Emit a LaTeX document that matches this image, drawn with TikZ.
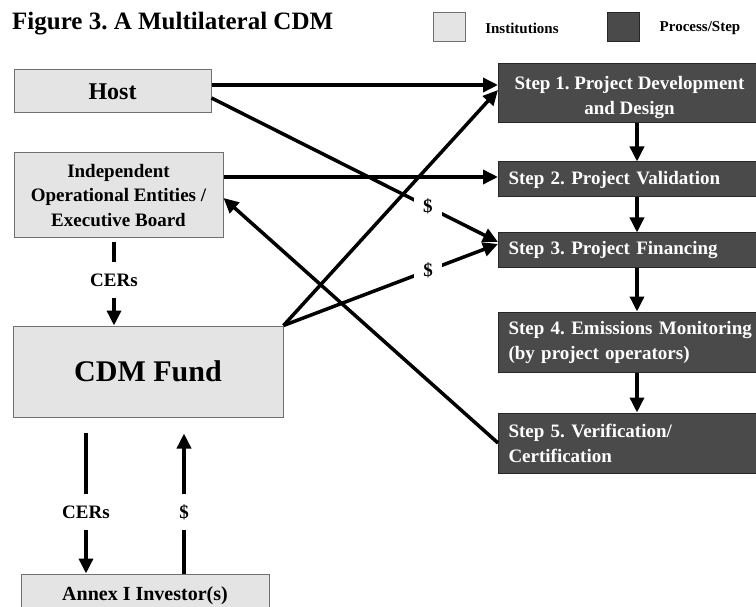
\documentclass[tikz,border=0pt]{standalone}
\usepackage{fontspec}
\setmainfont{Liberation Serif}
\usetikzlibrary{arrows.meta,calc}
\definecolor{instfill}{HTML}{E4E4E4}
\definecolor{instline}{HTML}{707070}
\definecolor{procfill}{HTML}{4A4A4A}
\definecolor{procline}{HTML}{262626}
\newcommand\fsz[2]{\fontsize{#1pt}{#2pt}\selectfont}
\frenchspacing
\begin{document}
\begin{tikzpicture}[x=1pt,y=-1pt,
  instbox/.style={draw=instline, fill=instfill, line width=1pt},
  procbox/.style={draw=procline, fill=procfill, line width=1pt},
  inst/.style={instbox, font=\bfseries, align=center, inner sep=0pt},
  proc/.style={procbox, text=white, font=\bfseries\fsz{19}{25},
    anchor=west, inner xsep=10pt, inner ysep=0pt, align=left, text width=300pt},
  link/.style={line width=3.5pt},
  flow/.style={link, -{Triangle[length=15pt,width=14pt]}},
  tag/.style={font=\bfseries\fsz{19}{22}, inner sep=0pt, minimum height=35pt},
  money/.style={font=\bfseries\fsz{19}{22}, fill=white, inner sep=0pt,
    minimum width=28pt, minimum height=18pt},
]
\useasboundingbox (0,0) rectangle (756,607);

% title and legend
\node[anchor=base west, inner sep=0pt, font=\bfseries\fsz{25}{30}] (title)
  at (12,29.3) {Figure 3. A Multilateral CDM};
\node[instbox, minimum width=32pt, minimum height=29pt, inner sep=0pt] (keyinst) at (449,27.5) {};
\node[font=\bfseries\fsz{15}{18}, inner sep=0pt] (keyinsttxt) at (522,28) {Institutions};
\node[procbox, minimum width=32pt, minimum height=29pt, inner sep=0pt] (keyproc) at (623,27.5) {};
\node[font=\bfseries\fsz{15}{18}, inner sep=0pt] (keyproctxt) at (700,28) {Process/Step};

% institutions
\node[inst, minimum width=197pt, minimum height=43pt, font=\bfseries\fsz{24}{28}]
  (host) at (112.5,91.5) {Host};
\node[inst, minimum width=209pt, minimum height=85pt, font=\bfseries\fsz{19}{24.5}]
  (ioe) at (118.5,195.5) {Independent\\Operational Entities /\\Executive Board};
\node[inst, minimum width=270pt, minimum height=91pt, font=\bfseries\fsz{30}{34}]
  (cdm) at (148,371.5) {CDM Fund};
\node[inst, minimum width=248pt, minimum height=44pt, font=\bfseries\fsz{20}{24}]
  (annex) at (145,596) {Annex I Investor(s)};

% process steps
\node[proc, minimum height=59pt, text width=, align=center, minimum width=262pt]
  (s1) at (498,93.5) {\rule{0pt}{22pt}Step 1. Project Development\\and Design};
\node[proc, minimum height=35pt] (s2) at (498,179.5) {Step 2. Project Validation};
\node[proc, minimum height=35pt] (s3) at (498,250.5) {Step 3. Project Financing};
\node[proc, minimum height=60pt] (s4) at (498,342) {Step 4. Emissions Monitoring\\(by project operators)};
\node[proc, minimum height=60pt] (s5) at (498,443) {Step 5. Verification/\\Certification};

% chain of steps
\coordinate (col) at (637,0);
\draw[flow] (s1.south -| col) -- (s2.north -| col);
\draw[flow] (s2.south -| col) -- (s3.north -| col);
\draw[flow] (s3.south -| col) -- (s4.north -| col);
\draw[flow] (s4.south -| col) -- (s5.north -| col);

% links from institutions to steps
\draw[flow] ([yshift=6.5pt]host.east) -- ([yshift=6.5pt]host.east -| s1.west);
\draw[flow] ([yshift=18.5pt]ioe.east) -- ([yshift=18.5pt]ioe.east -| s2.west);
\draw[flow] (cdm.north east) -- ([yshift=3.5pt]s1.west);
\draw[flow] ([yshift=-6.5pt]host.east) -- node[money, pos=0.755] (usd1) {\$} ([yshift=8.5pt]s3.west);
\draw[flow] (cdm.north east) -- node[money, pos=0.674] (usd2) {\$} ([yshift=6.5pt]s3.west);
\draw[flow] (s5.west) -- ([yshift=-2.5pt]ioe.east);

% CERs from the board to the fund
\node[tag] (cer1) at (114,280) {CERs};
\draw[link] ($(ioe.south -| cer1)+(0,4)$) -- (cer1);
\draw[flow] (cer1) -- (cdm.north -| cer1);

% exchanges between the fund and the investors
\node[tag] (cer2) at (86,512) {CERs};
\node[tag] (usd3) at (184,512) {\$};
\draw[link] ($(cdm.south -| cer2)+(0,15)$) -- (cer2);
\draw[flow] (cer2) -- (annex.north -| cer2);
\draw[link] (annex.north -| usd3) -- (usd3);
\draw[flow] (usd3) -- ($(cdm.south -| usd3)+(0,16)$);
\end{tikzpicture}
\end{document}
